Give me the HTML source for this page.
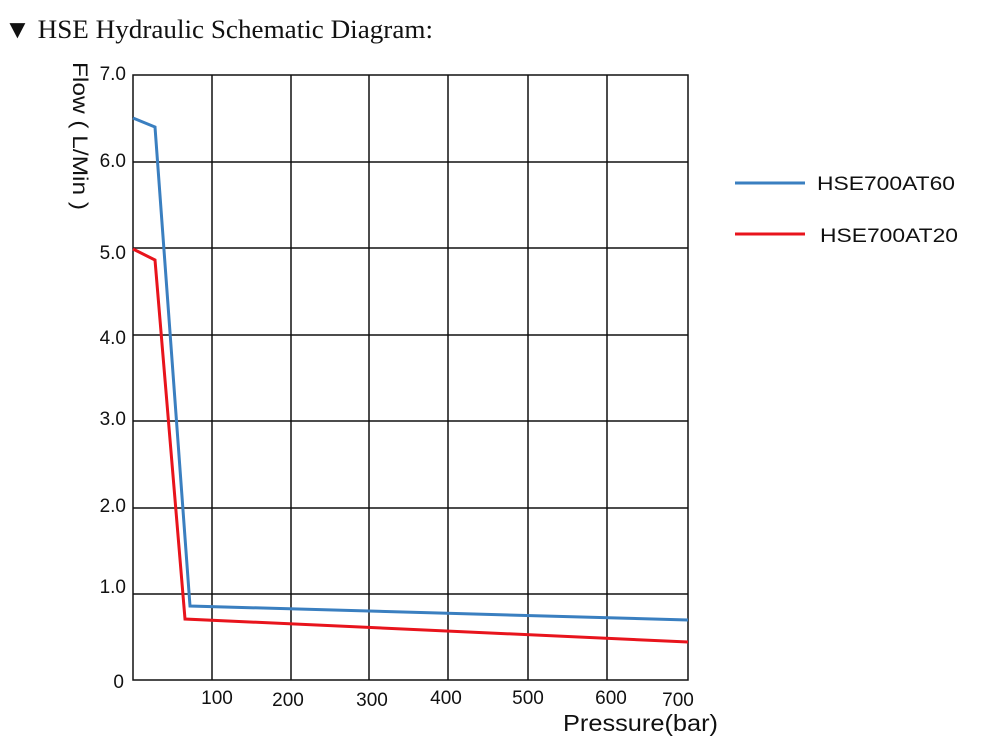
<!DOCTYPE html>
<html><head><meta charset="utf-8"><style>
body{margin:0;background:#fff;}
svg{display:block;}
</style></head><body>
<svg width="1000" height="750" xmlns="http://www.w3.org/2000/svg">
<text x="4" y="38" font-family="Liberation Serif, serif" font-size="26" fill="#111" textLength="429" lengthAdjust="spacingAndGlyphs">▼ HSE Hydraulic Schematic Diagram:</text>
<g stroke="#111" stroke-width="1.5" fill="none">
<rect x="133" y="75" width="555" height="605"/>
<line x1="212" y1="75" x2="212" y2="680"/><line x1="291" y1="75" x2="291" y2="680"/>
<line x1="369" y1="75" x2="369" y2="680"/><line x1="448" y1="75" x2="448" y2="680"/>
<line x1="528" y1="75" x2="528" y2="680"/><line x1="607" y1="75" x2="607" y2="680"/>
<line x1="133" y1="162" x2="688" y2="162"/><line x1="133" y1="248" x2="688" y2="248"/>
<line x1="133" y1="335" x2="688" y2="335"/><line x1="133" y1="421" x2="688" y2="421"/>
<line x1="133" y1="508" x2="688" y2="508"/><line x1="133" y1="594" x2="688" y2="594"/>
</g>
<polyline points="133,118 155,127 190,606 688,620" fill="none" stroke="#3a7fc0" stroke-width="3"/>
<polyline points="133,249 155,260 185,619 688,642" fill="none" stroke="#e8141c" stroke-width="3"/>
<g font-family="Liberation Sans, sans-serif" font-size="19" fill="#111" text-anchor="end">
<text x="126" y="80">7.0</text><text x="126" y="167">6.0</text><text x="126" y="259">5.0</text>
<text x="126" y="344">4.0</text><text x="126" y="425">3.0</text><text x="126" y="512">2.0</text>
<text x="126" y="593">1.0</text><text x="124" y="688">0</text>
</g>
<g font-family="Liberation Sans, sans-serif" font-size="19" fill="#111" text-anchor="middle">
<text x="217" y="704">100</text><text x="288" y="706">200</text><text x="372" y="706">300</text>
<text x="446" y="704">400</text><text x="528" y="704">500</text><text x="611" y="704">600</text>
<text x="678" y="706">700</text>
</g>
<text x="563" y="731" font-family="Liberation Sans, sans-serif" font-size="23" fill="#111" textLength="155" lengthAdjust="spacingAndGlyphs">Pressure(bar)</text>
<text transform="translate(73,62) rotate(90)" font-family="Liberation Sans, sans-serif" font-size="21" fill="#111" textLength="148" lengthAdjust="spacingAndGlyphs">Flow ( L/Min )</text>
<line x1="735" y1="183" x2="805" y2="183" stroke="#3a7fc0" stroke-width="3"/>
<text x="817" y="190" font-family="Liberation Sans, sans-serif" font-size="19" fill="#111" textLength="138" lengthAdjust="spacingAndGlyphs">HSE700AT60</text>
<line x1="735" y1="234" x2="805" y2="234" stroke="#e8141c" stroke-width="3"/>
<text x="820" y="242" font-family="Liberation Sans, sans-serif" font-size="19" fill="#111" textLength="138" lengthAdjust="spacingAndGlyphs">HSE700AT20</text>
</svg>
</body></html>
